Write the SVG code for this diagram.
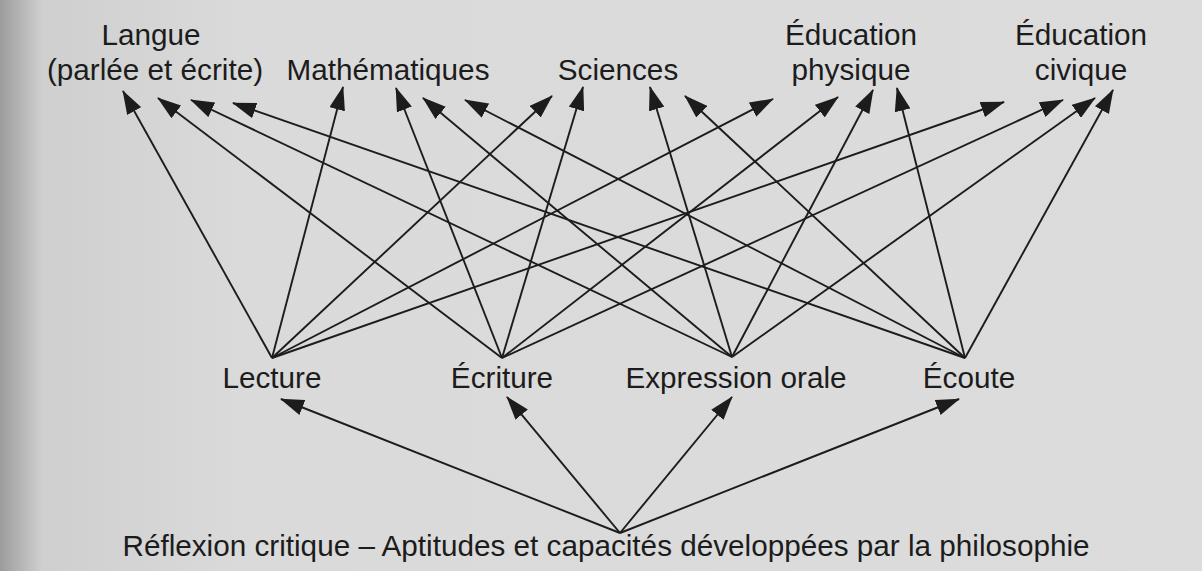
<svg xmlns="http://www.w3.org/2000/svg" width="1202" height="571" viewBox="0 0 1202 571">
<defs>
<linearGradient id="bg" x1="0" y1="0" x2="1" y2="0">
<stop offset="0" stop-color="#9c9c9c"/>
<stop offset="0.035" stop-color="#cfcfcf"/>
<stop offset="0.2" stop-color="#dadada"/>
<stop offset="1" stop-color="#dcdcdc"/>
</linearGradient>
<marker id="ah" viewBox="0 0 24 16" refX="23" refY="8" markerWidth="24" markerHeight="16" markerUnits="userSpaceOnUse" orient="auto">
<path d="M0,0 L24,8 L0,16 Z" fill="#1c1c1c"/>
</marker>
<style>
.t{font-family:"Liberation Sans",Arial,sans-serif;font-size:29.7px;fill:#1c1c1c;text-anchor:middle}
.c line{stroke:#1c1c1c;stroke-width:1.9;marker-end:url(#ah)}
</style>
</defs>
<rect width="1202" height="571" fill="url(#bg)"/>
<g id="langue"><text class="t" x="151" y="45">Langue</text><text class="t" x="155" y="80">(parlée et écrite)</text></g>
<g id="mathematiques"><text class="t" x="388" y="80">Mathématiques</text></g>
<g id="sciences"><text class="t" x="618" y="80">Sciences</text></g>
<g id="education-physique"><text class="t" x="851" y="45">Éducation</text><text class="t" x="851" y="80">physique</text></g>
<g id="education-civique"><text class="t" x="1081" y="45">Éducation</text><text class="t" x="1081" y="80">civique</text></g>
<g id="lecture"><text class="t" x="272" y="388">Lecture</text></g>
<g id="ecriture"><text class="t" x="502" y="388">Écriture</text></g>
<g id="expression-orale"><text class="t" x="736" y="388">Expression orale</text></g>
<g id="ecoute"><text class="t" x="969" y="388">Écoute</text></g>
<g id="reflexion"><text class="t" x="606" y="556">Réflexion critique – Aptitudes et capacités développées par la philosophie</text></g>
<g id="connectors" class="c">
<line x1="272" y1="358" x2="123" y2="91"/>
<line x1="502" y1="358" x2="158" y2="98"/>
<line x1="732" y1="357" x2="191" y2="100"/>
<line x1="965" y1="358" x2="233" y2="103"/>
<line x1="272" y1="358" x2="343" y2="87"/>
<line x1="502" y1="358" x2="396" y2="88"/>
<line x1="732" y1="357" x2="423" y2="98"/>
<line x1="965" y1="358" x2="465" y2="100"/>
<line x1="272" y1="358" x2="552" y2="96"/>
<line x1="502" y1="358" x2="583" y2="87"/>
<line x1="732" y1="357" x2="650" y2="87"/>
<line x1="965" y1="358" x2="685" y2="96"/>
<line x1="272" y1="358" x2="773" y2="99"/>
<line x1="502" y1="358" x2="838" y2="97"/>
<line x1="732" y1="357" x2="873" y2="90"/>
<line x1="965" y1="358" x2="897" y2="88"/>
<line x1="272" y1="358" x2="1004" y2="102"/>
<line x1="502" y1="358" x2="1063" y2="100"/>
<line x1="732" y1="357" x2="1095" y2="98"/>
<line x1="965" y1="358" x2="1113" y2="90"/>
<line x1="620" y1="533" x2="281" y2="399"/>
<line x1="620" y1="533" x2="507" y2="397"/>
<line x1="620" y1="533" x2="732" y2="397"/>
<line x1="620" y1="533" x2="959" y2="399"/>
</g>
</svg>
